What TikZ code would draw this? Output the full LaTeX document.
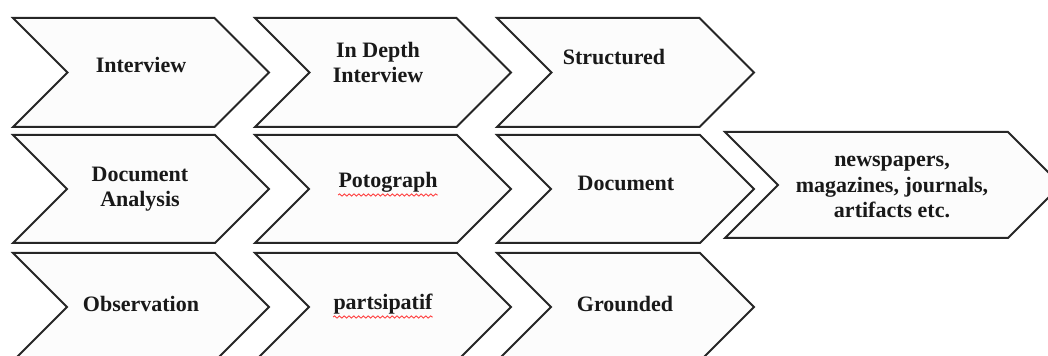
\documentclass[tikz,border=0pt]{standalone}
\usepackage{fontspec}
\setmainfont{Liberation Serif}
\usetikzlibrary{decorations.pathmorphing}
\newcommand\drawchev[4]{% #1 left x, #2 top y, #3 bottom y, #4 total width
  \filldraw[chev] (#1,#2) -- ({#1+#4-(#3-#2)/2},#2) -- ({#1+#4},{(#2+#3)/2})
    -- ({#1+#4-(#3-#2)/2},#3) -- (#1,#3) -- ({#1+(#3-#2)/2},{(#2+#3)/2}) -- cycle;}
\begin{document}
\begin{tikzpicture}[x=0.5pt,y=-0.5pt,
  chev/.style={draw=black!85, line width=1pt, fill=black!1, line join=miter},
  lbl/.style={font=\bfseries\fontsize{11}{12.9}\selectfont, align=center, inner sep=0pt, text=black!90},
  squiggle/.style={draw=red!75!white, line width=0.45pt, decorate,
    decoration={snake, amplitude=0.55pt, segment length=2.4pt}}]
\useasboundingbox (0,0) rectangle (1048,356);
\clip (0,0) rectangle (1048,356);
% row 1
\drawchev{13}{18}{127}{256}
\drawchev{255}{18}{127}{256}
\drawchev{497}{18}{127}{257}
% row 2
\drawchev{13}{135}{243}{256}
\drawchev{255}{135}{243}{256}
\drawchev{497}{135}{243}{257}
\drawchev{725}{132}{238}{336}
% row 3
\drawchev{13}{253}{361}{256}
\drawchev{255}{253}{361}{256}
\drawchev{497}{253}{361}{257}
% labels (base anchor = baseline of last line)
\node[lbl, anchor=base] (interview) at (141,73) {Interview};
\node[lbl, anchor=base] (indepth) at (378,83) {In Depth\\Interview};
\node[lbl, anchor=base] (structured) at (614,65) {Structured};
\node[lbl, anchor=base] (docanalysis) at (140,207) {Document\\Analysis};
\node[lbl, anchor=base] (potograph) at (388,188) {Potograph};
\node[lbl, anchor=base] (document) at (626,191) {Document};
\node[lbl, anchor=base] (newspapers) at (892,218) {newspapers,\\magazines, journals,\\artifacts etc.};
\node[lbl, anchor=base] (observation) at (141,312) {Observation};
\node[lbl, anchor=base] (partsipatif) at (383,310) {partsipatif};
\node[lbl, anchor=base] (grounded) at (625,312) {Grounded};
% spell-check underlines
\draw[squiggle] ([yshift=-3.5pt]potograph.base west) -- ([yshift=-3.5pt]potograph.base east);
\draw[squiggle] ([yshift=-3.5pt]partsipatif.base west) -- ([yshift=-3.5pt]partsipatif.base east);
\end{tikzpicture}
\end{document}
